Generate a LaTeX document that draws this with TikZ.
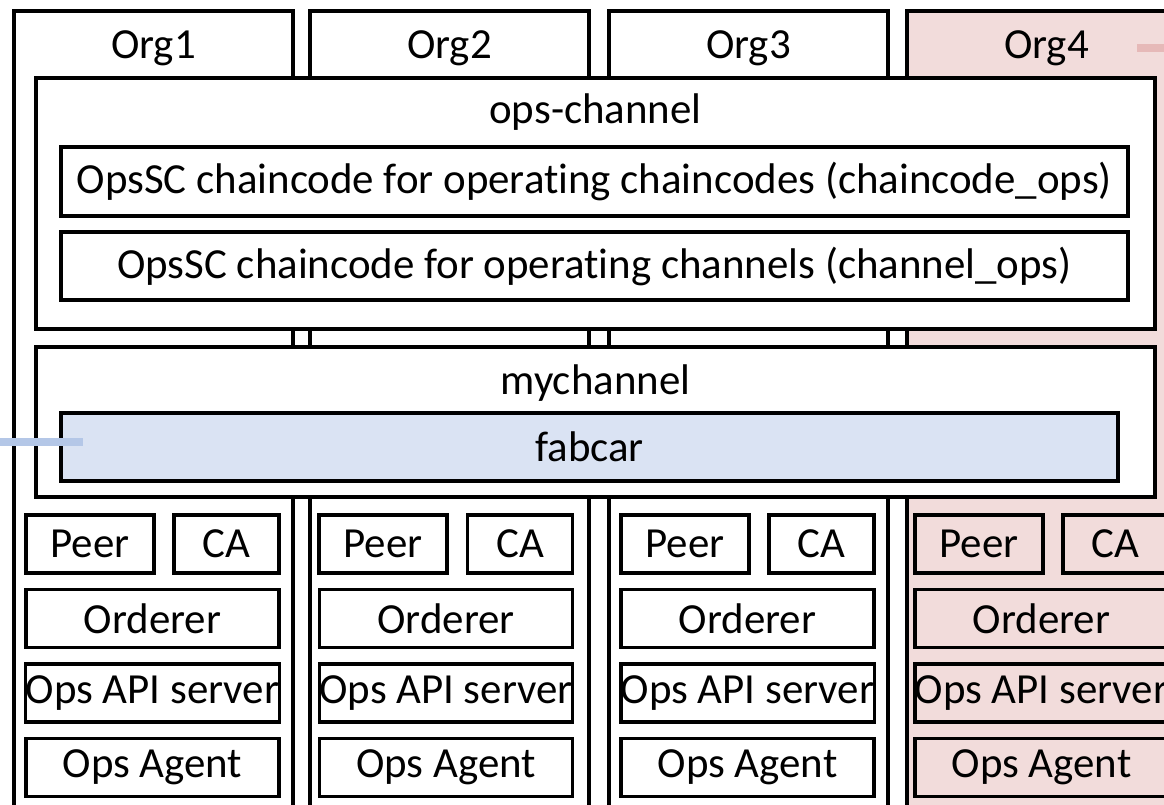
\documentclass[tikz,border=0pt]{standalone}
\usepackage{fontspec}
\setmainfont{Carlito}[Ligatures=CommonOff]
\usepackage{tikz}

\definecolor{orgpink}{HTML}{F2DCDB}
\definecolor{linkpink}{HTML}{E6B9B8}
\definecolor{ccblue}{HTML}{DAE3F3}
\definecolor{linkblue}{HTML}{B4C7E7}

\tikzset{
	box/.style={draw, line width=2.4pt, rectangle, inner sep=0pt, font=\fontsize{30.5}{32}\selectfont},
	orgbox/.style={box, minimum width=6.975cm, minimum height=20.5cm},
	peerbox/.style={box, minimum width=3.2cm, minimum height=1.45cm},
	cabox/.style={box, minimum width=2.625cm, minimum height=1.45cm},
	widebox/.style={box, minimum width=6.325cm, minimum height=1.45cm},
	lbl/.style={font=\fontsize{30.5}{32}\selectfont, inner sep=0pt}
}

\begin{document}
\begin{tikzpicture}[x=0.025cm, y=-0.025cm]
		\useasboundingbox (0,0) rectangle (1164,804);
		\clip (0,0) rectangle (1164,804);
		%\draw [help lines, step=100] (0,0) grid (1164,804);
		
		% organisations
		\node [orgbox, fill=white] (org1) at (153.5,421) {};
		\node [orgbox, fill=white] (org2) at (449.5,421) {};
		\node [orgbox, fill=white] (org3) at (748.5,421) {};
		\node [orgbox, fill=orgpink] (org4) at (1046.5,421) {};
		\node [lbl] (org1lbl) at (153.5,48) {Org1};
		\node [lbl] (org2lbl) at (449.5,48) {Org2};
		\node [lbl] (org3lbl) at (748.5,48) {Org3};
		\node [lbl] (org4lbl) at (1046.5,48) {Org4};
		
		% channels
		\node [box, fill=white, minimum width=27.975cm, minimum height=6.275cm] (opsch) at (595.5,203.5) {};
		\node [lbl] (opschlbl) at (595.5,112) {ops-channel};
		\node [box, minimum width=26.675cm, minimum height=1.725cm] (ccops) at (594.5,181.5) {OpsSC chaincode for operating chaincodes (chaincode\_ops)};
		\node [box, minimum width=26.675cm, minimum height=1.7cm] (chops) at (594.5,266) {OpsSC chaincode for operating channels (channel\_ops)};
		
		\node [box, fill=white, minimum width=27.975cm, minimum height=3.75cm] (mych) at (595.5,422) {};
		\node [lbl] (mychlbl) at (595.5,383) {mychannel};
		\node [box, fill=ccblue, minimum width=26.425cm, minimum height=1.7cm] (fabcar) at (589.5,447) {fabcar};
		
		\coordinate (bluein) at (-10,442);
		\coordinate (blueend) at (83,442);
		\draw [linkblue, line width=5.5pt] (bluein) -- (blueend);
		
		% components, Org1
		\node [peerbox] (peer1) at (90,544) {Peer};
		\node [cabox] (ca1) at (226.5,544) {CA};
		\node [widebox] (ord1) at (152.5,618.5) {Orderer};
		\node [widebox] (api1) at (152.5,693) {Ops API server};
		\node [widebox] (agent1) at (152.5,767.5) {Ops Agent};
		
		% Org2
		\node [peerbox] (peer2) at (383,544) {Peer};
		\node [cabox] (ca2) at (520,544) {CA};
		\node [widebox] (ord2) at (446,618.5) {Orderer};
		\node [widebox] (api2) at (446,693) {Ops API server};
		\node [widebox] (agent2) at (446,767.5) {Ops Agent};
		
		% Org3
		\node [peerbox] (peer3) at (685,544) {Peer};
		\node [cabox] (ca3) at (821.5,544) {CA};
		\node [widebox] (ord3) at (747.5,618.5) {Orderer};
		\node [widebox] (api3) at (747.5,693) {Ops API server};
		\node [widebox] (agent3) at (747.5,767.5) {Ops Agent};
		
		% Org4
		\node [peerbox] (peer4) at (979,544) {Peer};
		\node [cabox] (ca4) at (1115.5,544) {CA};
		\node [widebox] (ord4) at (1041.5,618.5) {Orderer};
		\node [widebox] (api4) at (1041.5,693) {Ops API server};
		\node [widebox] (agent4) at (1041.5,767.5) {Ops Agent};
		
		\coordinate (pinkstart) at (1137,48);
		\coordinate (pinkout) at (1180,48);
		\draw [linkpink, line width=5.5pt] (pinkstart) -- (pinkout);
	\end{tikzpicture}
\end{document}
